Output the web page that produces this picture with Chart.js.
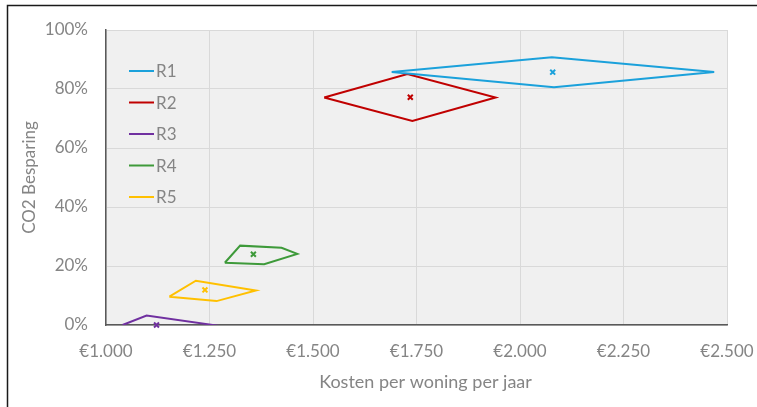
<!DOCTYPE html>
<html>
<head>
<meta charset="utf-8">
<script src="https://cdn.jsdelivr.net/npm/chart.js@4"></script>
<style>
  html, body { margin: 0; padding: 0; background: #ffffff; }
  #wrap { width: 757px; height: 407px; }
</style>
</head>
<body>
<div id="wrap"><canvas id="c" width="757" height="407"></canvas></div>
<script>
// ---- data ----
const seriesNames = ['R1', 'R2', 'R3', 'R4', 'R5'];
const r1X = [1690, 2077, 2469, 2082];
const r1Y = [0.858, 0.908, 0.858, 0.806];
const r2X = [1527, 1728, 1941, 1740];
const r2Y = [0.771, 0.851, 0.771, 0.692];
const r3X = [1040, 1098, 1259, 1130];
const r3Y = [0.000, 0.032, 0.000, -0.030];
const r4X = [1287, 1324, 1424, 1462, 1382];
const r4Y = [0.211, 0.269, 0.262, 0.241, 0.206];
const r5X = [1153, 1217, 1362, 1267];
const r5Y = [0.096, 0.150, 0.117, 0.081];
const centerX = [2079, 1735, 1122, 1356, 1239];
const centerY = [0.857, 0.772, 0.000, 0.240, 0.119];
const xTickValues = [1000, 1250, 1500, 1750, 2000, 2250, 2500];
const xTickLabels = ['€1.000', '€1.250', '€1.500', '€1.750', '€2.000', '€2.250', '€2.500'];
const yTickValues = [0, 0.2, 0.4, 0.6, 0.8, 1.0];
const yTickLabels = ['0%', '20%', '40%', '60%', '80%', '100%'];
const xTitle = 'Kosten per woning per jaar';
const yTitle = 'CO2 Besparing';

// ---- styling ----
const seriesColors = ['#1ba1db', '#c00000', '#7030a0', '#3e9a3a', '#ffc000'];
const FONT = 'Lato, "Open Sans", sans-serif';
const TXT = '#858585';

const polyX = [r1X, r2X, r3X, r4X, r5X];
const polyY = [r1Y, r2Y, r3Y, r4Y, r5Y];

function closedPoly(xs, ys) {
  const pts = xs.map((x, i) => ({ x: x, y: ys[i] }));
  pts.push({ x: xs[0], y: ys[0] });
  return pts;
}

const datasets = [];
seriesNames.forEach((name, i) => {
  datasets.push({
    label: name,
    data: closedPoly(polyX[i], polyY[i]),
    showLine: true,
    borderColor: seriesColors[i],
    backgroundColor: seriesColors[i],
    borderWidth: 2,
    pointRadius: 0,
    tension: 0,
    isPolygon: true
  });
});
seriesNames.forEach((name, i) => {
  datasets.push({
    label: name + ' gemiddelde',
    data: [{ x: centerX[i], y: centerY[i] }],
    showLine: false,
    pointStyle: 'crossRot',
    pointRadius: 3.5,
    pointBorderWidth: 2,
    borderColor: seriesColors[i],
    backgroundColor: seriesColors[i],
    clip: false
  });
});

const bgPlugin = {
  id: 'bg',
  beforeDraw(chart) {
    const ctx = chart.ctx;
    const a = chart.chartArea;
    ctx.save();
    ctx.fillStyle = '#ffffff';
    ctx.fillRect(0, 0, chart.width, chart.height);
    ctx.fillStyle = '#f0f0f0';
    ctx.fillRect(a.left, a.top, a.right - a.left, a.bottom - a.top);
    ctx.strokeStyle = '#1a1a1a';
    ctx.lineWidth = 1.5;
    ctx.beginPath();
    ctx.moveTo(7.5, chart.height);
    ctx.lineTo(7.5, 5.5);
    ctx.lineTo(chart.width, 5.5);
    ctx.stroke();
    ctx.restore();
  }
};

const legendPlugin = {
  id: 'innerLegend',
  afterDatasetsDraw(chart) {
    const ctx = chart.ctx;
    ctx.save();
    ctx.font = '17px ' + FONT;
    ctx.textBaseline = 'middle';
    ctx.textAlign = 'left';
    let row = 0;
    chart.data.datasets.forEach((ds) => {
      if (!ds.isPolygon) return;
      const y = 71 + row * 31.5;
      ctx.strokeStyle = ds.borderColor;
      ctx.lineWidth = 2;
      ctx.beginPath();
      ctx.moveTo(129, y);
      ctx.lineTo(154, y);
      ctx.stroke();
      ctx.fillStyle = TXT;
      ctx.fillText(ds.label, 156, y + 1);
      row++;
    });
    ctx.restore();
  }
};

new Chart(document.getElementById('c'), {
  type: 'scatter',
  data: { datasets: datasets },
  plugins: [bgPlugin, legendPlugin],
  options: {
    responsive: false,
    animation: false,
    devicePixelRatio: 1,
    layout: { padding: { top: 30, right: 0, left: 0, bottom: 0 } },
    plugins: {
      legend: { display: false },
      tooltip: { enabled: false }
    },
    scales: {
      x: {
        type: 'linear',
        min: 1000,
        max: 2500,
        afterFit(s) { s.height = 82; s.paddingRight = 30; },
        afterUpdate(s) {
          if (!s._titleShifted) {
            const orig = s.drawTitle;
            s.drawTitle = function () {
              this.ctx.save();
              this.ctx.translate(9, 0);
              orig.call(this);
              this.ctx.restore();
            };
            s._titleShifted = true;
          }
        },
        afterBuildTicks(s) { s.ticks = xTickValues.map(v => ({ value: v })); },
        ticks: {
          padding: 16,
          color: TXT,
          font: { family: FONT, size: 17 },
          maxRotation: 0,
          callback(v) { const k = xTickValues.indexOf(v); return k >= 0 ? xTickLabels[k] : ''; }
        },
        grid: { color: '#d9d9d9', lineWidth: 1, drawTicks: false },
        border: { display: true, color: '#595959', width: 1.5 },
        title: {
          display: true,
          text: xTitle,
          color: TXT,
          font: { family: FONT, size: 18 },
          padding: { top: 0, bottom: 14 }
        }
      },
      y: {
        type: 'linear',
        min: 0,
        max: 1,
        afterFit(s) { s.width = 106; },
        afterBuildTicks(s) { s.ticks = yTickValues.map(v => ({ value: v })); },
        ticks: {
          padding: 18,
          color: TXT,
          font: { family: FONT, size: 17 },
          callback(v) {
            const k = yTickValues.findIndex(t => Math.abs(t - v) < 1e-9);
            return k >= 0 ? yTickLabels[k] : '';
          }
        },
        grid: { color: '#d9d9d9', lineWidth: 1, drawTicks: false },
        border: { display: true, color: '#595959', width: 1.5 },
        title: {
          display: true,
          text: yTitle,
          color: TXT,
          font: { family: FONT, size: 17 },
          padding: { top: 19, bottom: 0 }
        }
      }
    }
  }
});
</script>
</body>
</html>
